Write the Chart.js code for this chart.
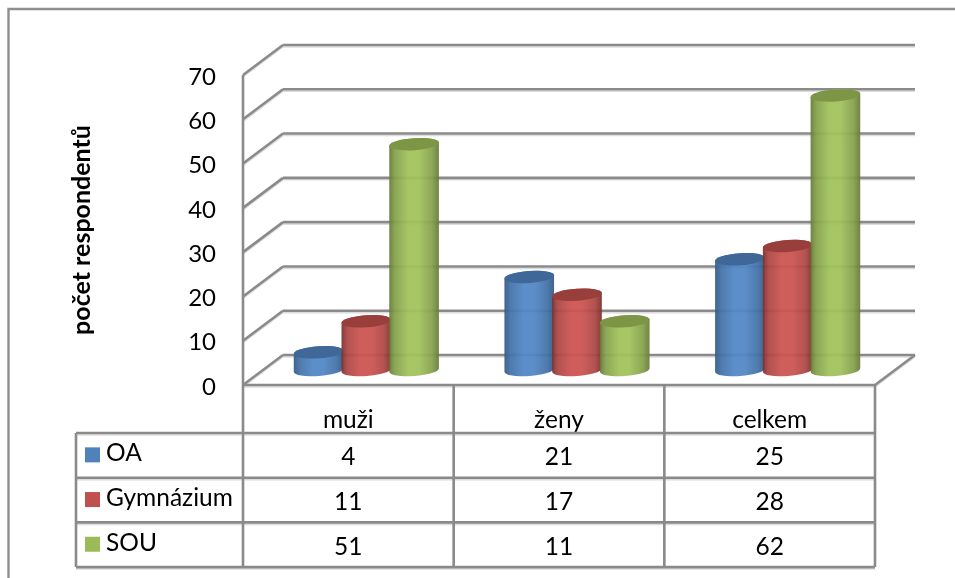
<!DOCTYPE html>
<html>
<head>
<meta charset="utf-8">
<style>
  html, body { margin: 0; padding: 0; background: #fff; }
  #wrap { width: 955px; height: 578px; position: relative; }
</style>
<script src="https://cdn.jsdelivr.net/npm/chart.js@4"></script>
</head>
<body>
<div id="wrap"><canvas id="mychart" width="955" height="578"></canvas></div>
<script>
// data
const categories = ['muži', 'ženy', 'celkem'];
const seriesNames = ['OA', 'Gymnázium', 'SOU'];
const oaValues = [4, 21, 25];
const gymnaziumValues = [11, 17, 28];
const souValues = [51, 11, 62];
const yTicks = [0, 10, 20, 30, 40, 50, 60, 70];
const yTitle = 'počet respondentů';

// colours: swatch, top face, cylinder edge, cylinder mid, cylinder highlight
const palette = [
  { swatch: '#4f81bd', top: '#3f6797', edge: '#345a88', mid: '#4472a8', light: '#5287c6' },
  { swatch: '#c0504d', top: '#983f3c', edge: '#7c302e', mid: '#ae4845', light: '#cc5451' },
  { swatch: '#9bbb59', top: '#7c9646', edge: '#667c38', mid: '#86a24c', light: '#a1c25c' }
];

const LINE = '#8a8a8a';
const SHADOW = '#dcdcdc';
const FONT = 'Lato, Carlito, sans-serif';
const DEPTH_X = 40, DEPTH_Y = 30;      // offset of the back wall from the front axis
const BAR_SHIFT_X = 18;
const BAR_TILT = -0.07;
const TABLE_LEFT = 76, ROW_TOP = 433, ROW_H = 44.7;

function stroke(ctx, x1, y1, x2, y2) {
  ctx.strokeStyle = SHADOW;
  ctx.lineWidth = 1.5;
  ctx.beginPath(); ctx.moveTo(x1, y1 + 2); ctx.lineTo(x2, y2 + 2); ctx.stroke();
  ctx.strokeStyle = LINE;
  ctx.lineWidth = 2.6;
  ctx.beginPath(); ctx.moveTo(x1, y1); ctx.lineTo(x2, y2); ctx.stroke();
}

function drawCylinder(ctx, cx, top, base, w, c) {
  const rx = w / 2, ry = 6;
  const dx = rx * Math.cos(BAR_TILT), dy = rx * Math.sin(BAR_TILT);
  const g = ctx.createLinearGradient(cx - rx, 0, cx + rx, 0);
  g.addColorStop(0, c.edge);
  g.addColorStop(0.12, c.mid);
  g.addColorStop(0.38, c.light);
  g.addColorStop(0.6, c.light);
  g.addColorStop(0.86, c.mid);
  g.addColorStop(1, c.edge);
  ctx.save();
  ctx.globalAlpha = 0.94;
  ctx.fillStyle = g;
  ctx.beginPath();
  ctx.moveTo(cx + dx, top + dy);
  ctx.ellipse(cx, base, rx, ry, BAR_TILT, 0, Math.PI, false);
  ctx.ellipse(cx, top, rx, ry, BAR_TILT, Math.PI, 0, false);
  ctx.closePath();
  ctx.fill();
  ctx.globalAlpha = 1;
  ctx.fillStyle = c.top;
  ctx.beginPath();
  ctx.ellipse(cx, top, rx, ry, BAR_TILT, 0, Math.PI * 2);
  ctx.fill();
  ctx.restore();
}

// walls, floor and gridlines behind the bars
const wallsPlugin = {
  id: 'walls',
  beforeDatasetsDraw(chart) {
    const ctx = chart.ctx, y = chart.scales.y, a = chart.chartArea;
    ctx.save();
    // outer frame, only top and left are visible
    ctx.strokeStyle = '#8f8f8f';
    ctx.lineWidth = 2.4;
    ctx.beginPath();
    ctx.moveTo(8.5, 578); ctx.lineTo(8.5, 9); ctx.lineTo(955, 9);
    ctx.stroke();
    yTicks.forEach(function(t) {
      const py = y.getPixelForValue(t);
      stroke(ctx, a.left, py, a.left + DEPTH_X, py - DEPTH_Y);
      stroke(ctx, a.left + DEPTH_X, py - DEPTH_Y, a.right + DEPTH_X, py - DEPTH_Y);
    });
    const zero = y.getPixelForValue(0);
    stroke(ctx, a.right, zero, a.right + DEPTH_X, zero - DEPTH_Y);
    ctx.strokeStyle = LINE;
    ctx.lineWidth = 2.6;
    ctx.beginPath();
    ctx.moveTo(a.left, y.getPixelForValue(70)); ctx.lineTo(a.left, zero);
    ctx.stroke();

    // value labels sit a touch below their gridline
    ctx.font = '24px ' + FONT;
    ctx.fillStyle = '#000';
    ctx.textAlign = 'right';
    ctx.textBaseline = 'middle';
    yTicks.forEach(function(t) {
      ctx.fillText(String(t), a.left - 27, y.getPixelForValue(t) + 2);
    });
    ctx.restore();
  },
  afterDatasetsDraw(chart) {
    const ctx = chart.ctx;
    chart.data.datasets.forEach(function(ds, i) {
      chart.getDatasetMeta(i).data.forEach(function(bar) {
        drawCylinder(ctx, bar.x + BAR_SHIFT_X, bar.y - DEPTH_Y / 2, bar.base - DEPTH_Y / 2, bar.width + 2, palette[i]);
      });
    });
  }
};

// data table under the plot, columns follow the category scale
const tablePlugin = {
  id: 'dataTable',
  afterDraw(chart) {
    const ctx = chart.ctx, x = chart.scales.x, a = chart.chartArea;
    const zero = chart.scales.y.getPixelForValue(0);
    const bottom = ROW_TOP + ROW_H * seriesNames.length;
    const colW = (a.right - a.left) / categories.length;
    ctx.save();
    stroke(ctx, a.left, zero, a.right, zero);
    for (let r = 0; r <= seriesNames.length; r++) {
      stroke(ctx, TABLE_LEFT, ROW_TOP + ROW_H * r, a.right, ROW_TOP + ROW_H * r);
    }
    ctx.strokeStyle = LINE;
    ctx.lineWidth = 2.6;
    ctx.beginPath();
    ctx.moveTo(TABLE_LEFT, ROW_TOP); ctx.lineTo(TABLE_LEFT, bottom);
    for (let c = 0; c <= categories.length; c++) {
      ctx.moveTo(a.left + colW * c, zero); ctx.lineTo(a.left + colW * c, bottom);
    }
    ctx.stroke();

    ctx.font = '24.5px ' + FONT;
    ctx.fillStyle = '#000';
    ctx.textBaseline = 'middle';
    chart.data.datasets.forEach(function(ds, r) {
      const rowMid = ROW_TOP + ROW_H * (r + 0.5);
      ctx.fillStyle = palette[r].swatch;
      ctx.fillRect(85, rowMid - 8, 15, 15);
      ctx.fillStyle = '#000';
      ctx.textAlign = 'left';
      ctx.fillText(seriesNames[r], 106, rowMid - 2);
      ctx.textAlign = 'center';
      ds.data.forEach(function(v, i) {
        ctx.fillText(String(v), x.getPixelForValue(i), rowMid + 2);
      });
    });
    ctx.restore();
  }
};

const mychart = new Chart(document.getElementById('mychart').getContext('2d'), {
  type: 'bar',
  data: {
    labels: categories,
    datasets: [
      { label: seriesNames[0], data: oaValues },
      { label: seriesNames[1], data: gymnaziumValues },
      { label: seriesNames[2], data: souValues }
    ]
  },
  options: {
    responsive: false,
    animation: false,
    events: [],
    layout: { padding: { left: 67, top: 75, right: 80, bottom: 0 } },
    datasets: {
      bar: {
        borderWidth: 0,
        categoryPercentage: 0.68,
        barPercentage: 1
      }
    },
    // cylinders are painted by the walls plugin, the native rectangles stay invisible
    elements: { bar: { backgroundColor: 'transparent' } },
    plugins: {
      colors: { enabled: false },
      legend: { display: false },
      tooltip: { enabled: false },
      title: { display: false }
    },
    scales: {
      x: {
        grid: { display: false, drawTicks: false },
        border: { display: false },
        ticks: { color: '#000', padding: 20, maxRotation: 0, font: { family: FONT, size: 24.5 } },
        afterFit(scale) { scale.height = 193; }
      },
      y: {
        min: 0,
        max: 70,
        afterBuildTicks(scale) { scale.ticks = yTicks.map(function(v) { return { value: v }; }); },
        grid: { display: false, drawTicks: false },
        border: { display: false },
        ticks: { display: false },
        title: {
          display: true,
          text: yTitle,
          color: '#000',
          padding: 0,
          font: { family: FONT, size: 25, weight: 'bold' }
        },
        afterFit(scale) { scale.width = 176; }
      }
    }
  },
  plugins: [wallsPlugin, tablePlugin]
});
</script>
</body>
</html>
